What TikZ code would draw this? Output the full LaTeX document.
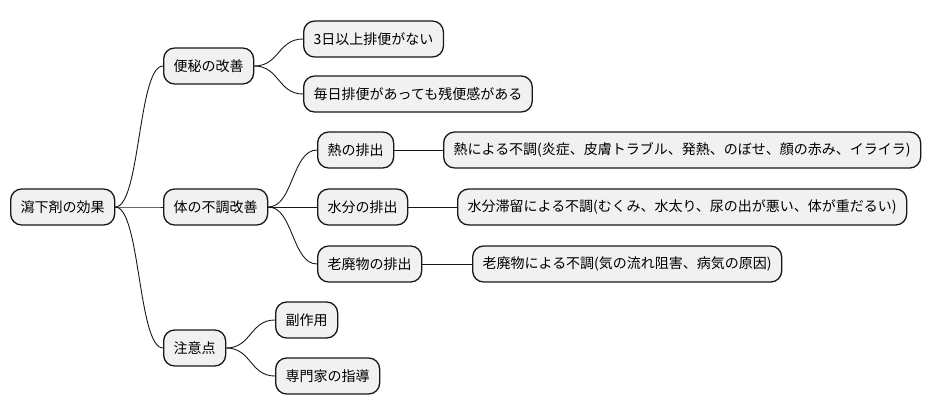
\documentclass[tikz,border=0pt]{standalone}
\usepackage{fontspec}
\setmainfont{Noto Sans CJK JP}
\usetikzlibrary{calc}
\definecolor{boxfill}{HTML}{F1F1F1}
\definecolor{boxline}{HTML}{181818}
\tikzset{
  mmnode/.style={draw=boxline, fill=boxfill, line width=1.3pt, rounded corners=11pt,
    minimum height=36pt, inner xsep=10pt, inner ysep=0pt, anchor=west,
    font=\fontsize{14pt}{16pt}\selectfont, text=black},
  conn/.style={draw=boxline, line width=0.9pt},
}
\begin{document}
\begin{tikzpicture}[x=1pt,y=-1pt]
\useasboundingbox (0,0) rectangle (933,415);
\node[mmnode] (root) at (10,207) {瀉下剤の効果};
\node[mmnode] (a) at (163,66) {便秘の改善};
\node[mmnode] (a1) at (303,39) {3日以上排便がない};
\node[mmnode] (a2) at (303,94) {毎日排便があっても残便感がある};
\node[mmnode] (b) at (163,207) {体の不調改善};
\node[mmnode] (b1) at (317,150) {熱の排出};
\node[mmnode] (b2) at (317,207) {水分の排出};
\node[mmnode] (b3) at (317,264) {老廃物の排出};
\node[mmnode] (b1x) at (443,150) {熱による不調(炎症、皮膚トラブル、発熱、のぼせ、顔の赤み、イライラ)};
\node[mmnode] (b2x) at (457,207) {水分滞留による不調(むくみ、水太り、尿の出が悪い、体が重だるい)};
\node[mmnode] (b3x) at (472,264) {老廃物による不調(気の流れ阻害、病気の原因)};
\node[mmnode] (c) at (163,348) {注意点};
\node[mmnode] (c1) at (275,320) {副作用};
\node[mmnode] (c2) at (275,376) {専門家の指導};
\foreach \p/\c in {root/a, root/b, root/c, a/a1, a/a2, b/b1, b/b2, b/b3, c/c1, c/c2}{
  \draw[conn] (\p.east) .. controls +(25,0) and +(-25,0) .. (\c.west);
}
\draw[conn] (b1.east) -- (b1x.west);
\draw[conn] (b2.east) -- (b2x.west);
\draw[conn] (b3.east) -- (b3x.west);
\end{tikzpicture}
\end{document}
